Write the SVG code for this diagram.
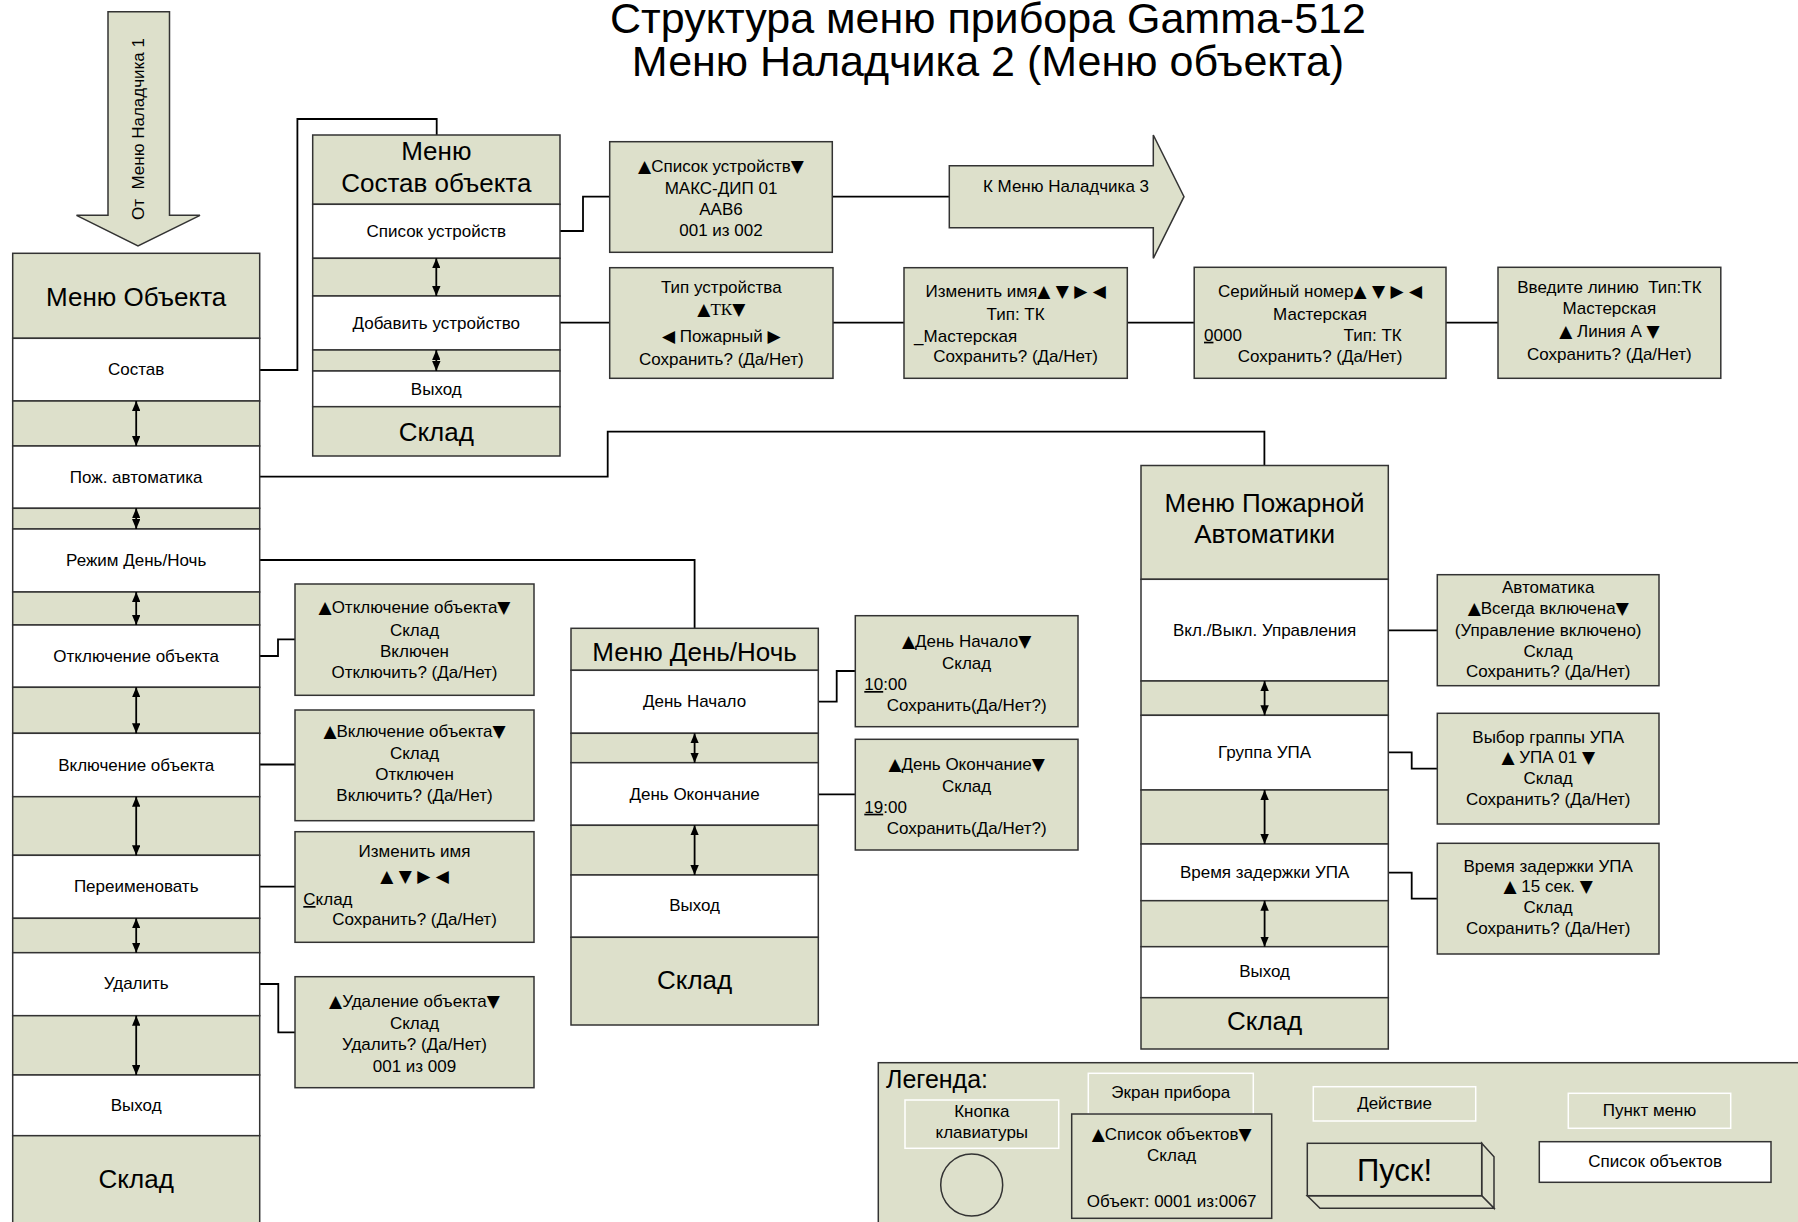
<svg xmlns="http://www.w3.org/2000/svg" width="1798" height="1222" viewBox="0 0 1798 1222">
<style>
.g{fill:#dde0cb;stroke:#333;stroke-width:1.5}
.w{fill:#fff;stroke:#333;stroke-width:1.5}
.lw{fill:#dde0cb;stroke:#fff;stroke-width:1.5}
.c{fill:none;stroke:#000;stroke-width:1.8}
.a{fill:none;stroke:#000;stroke-width:1.8;marker-start:url(#ah);marker-end:url(#ah)}
text{font-family:"Liberation Sans",Arial,sans-serif;font-size:17px;fill:#000}
.m{text-anchor:middle}
.h{font-size:26px}
.s{font-family:"Liberation Serif","Times New Roman",serif}
.u{text-decoration:underline}
.tr{font-family:"DejaVu Sans",sans-serif;font-size:17px}
</style>
<defs>
<marker id="ah" viewBox="0 0 10 8.4" refX="10" refY="4.2" markerWidth="10" markerHeight="8.4" markerUnits="userSpaceOnUse" orient="auto-start-reverse">
<path d="M0,0 L10,4.2 L0,8.4 z" fill="#000"/>
</marker>
</defs>
<rect width="1798" height="1222" fill="#fff"/>

<g id="title">
<text class="m" x="988" y="33" style="font-size:43px">Структура меню прибора Gamma-512</text>
<text class="m" x="988" y="76" style="font-size:43px">Меню Наладчика 2 (Меню объекта)</text>
</g>

<g id="from-menu-1">
<polygon class="g" points="108,11.7 169.5,11.7 169.5,215.3 200,215.3 138,246 76.5,215.3 108,215.3"/>
<text class="m" transform="translate(144,129) rotate(-90)" xml:space="preserve">От  Меню Наладчика 1</text>
</g>

<g id="connectors">
<polyline class="c" points="259.5,370 297.4,370 297.4,119 436.7,119 436.7,135"/>
<polyline class="c" points="259.5,476.7 607.7,476.7 607.7,431.7 1264.4,431.7 1264.4,465.5"/>
<polyline class="c" points="259.5,560 694.6,560 694.6,628.3"/>
<polyline class="c" points="259.5,656 278,656 278,639.3 295,639.3"/>
<polyline class="c" points="259.5,764.5 295,764.5"/>
<polyline class="c" points="259.5,886.7 295,886.7"/>
<polyline class="c" points="259.5,984 278.3,984 278.3,1032.3 295,1032.3"/>
<polyline class="c" points="560,231 583,231 583,196.7 609.7,196.7"/>
<polyline class="c" points="832.3,196.7 955,196.7"/>
<polyline class="c" points="560,322.7 609.7,322.7"/>
<polyline class="c" points="833,322.7 904,322.7"/>
<polyline class="c" points="1127.3,322.7 1194.2,322.7"/>
<polyline class="c" points="1446,322.7 1498,322.7"/>
<polyline class="c" points="818.3,701.7 836.7,701.7 836.7,671 855.3,671"/>
<polyline class="c" points="818.3,794.3 855.3,794.3"/>
<polyline class="c" points="1388.3,630.3 1437.3,630.3"/>
<polyline class="c" points="1388.3,752.3 1411.7,752.3 1411.7,768.7 1437.3,768.7"/>
<polyline class="c" points="1388.3,872.7 1411.7,872.7 1411.7,898.7 1437.3,898.7"/>
</g>

<g id="to-menu-3">
<polygon class="g" points="949.3,165.7 1153.3,165.7 1153.3,135 1184,196.7 1153.3,258.3 1153.3,227.7 949.3,227.7"/>
<text class="m" x="1066" y="191.7">К Меню Наладчика 3</text>
</g>

<g id="menu-object">
<rect class="g" x="12.7" y="253.3" width="247" height="85"/>
<text class="m h" x="136.2" y="306">Меню Объекта</text>
<rect class="w" x="12.7" y="338.3" width="247" height="62.7"/>
<text class="m" x="136.2" y="375">Состав</text>
<rect class="g" x="12.7" y="401" width="247" height="45"/>
<rect class="w" x="12.7" y="446" width="247" height="62.3"/>
<text class="m" x="136.2" y="483">Пож. автоматика</text>
<rect class="g" x="12.7" y="508.3" width="247" height="20.7"/>
<rect class="w" x="12.7" y="529" width="247" height="63"/>
<text class="m" x="136.2" y="566">Режим День/Ночь</text>
<rect class="g" x="12.7" y="592" width="247" height="33"/>
<rect class="w" x="12.7" y="625" width="247" height="62.3"/>
<text class="m" x="136.2" y="662">Отключение объекта</text>
<rect class="g" x="12.7" y="687.3" width="247" height="46"/>
<rect class="w" x="12.7" y="733.3" width="247" height="63.4"/>
<text class="m" x="136.2" y="771">Включение объекта</text>
<rect class="g" x="12.7" y="796.7" width="247" height="58.6"/>
<rect class="w" x="12.7" y="855.3" width="247" height="63"/>
<text class="m" x="136.2" y="892">Переименовать</text>
<rect class="g" x="12.7" y="918.3" width="247" height="34.4"/>
<rect class="w" x="12.7" y="952.7" width="247" height="63"/>
<text class="m" x="136.2" y="989">Удалить</text>
<rect class="g" x="12.7" y="1015.7" width="247" height="59.3"/>
<rect class="w" x="12.7" y="1075" width="247" height="60.7"/>
<text class="m" x="136.2" y="1111">Выход</text>
<rect class="g" x="12.7" y="1135.7" width="247" height="100"/>
<text class="m h" x="136.2" y="1188">Склад</text>
<line class="a" x1="136.2" y1="401" x2="136.2" y2="446"/>
<line class="a" x1="136.2" y1="508.3" x2="136.2" y2="529"/>
<line class="a" x1="136.2" y1="592" x2="136.2" y2="625"/>
<line class="a" x1="136.2" y1="687.3" x2="136.2" y2="733.3"/>
<line class="a" x1="136.2" y1="796.7" x2="136.2" y2="855.3"/>
<line class="a" x1="136.2" y1="918.3" x2="136.2" y2="952.7"/>
<line class="a" x1="136.2" y1="1015.7" x2="136.2" y2="1075"/>
</g>

<g id="menu-composition">
<rect class="g" x="312.7" y="135" width="247.3" height="69.3"/>
<text class="m h" x="436.3" y="160">Меню</text>
<text class="m h" x="436.3" y="191.7">Состав объекта</text>
<rect class="w" x="312.7" y="204.3" width="247.3" height="54"/>
<text class="m" x="436.3" y="237">Список устройств</text>
<rect class="g" x="312.7" y="258.3" width="247.3" height="37.7"/>
<rect class="w" x="312.7" y="296" width="247.3" height="54"/>
<text class="m" x="436.3" y="329">Добавить устройство</text>
<rect class="g" x="312.7" y="350" width="247.3" height="21"/>
<rect class="w" x="312.7" y="371" width="247.3" height="35.7"/>
<text class="m" x="436.3" y="395">Выход</text>
<rect class="g" x="312.7" y="406.7" width="247.3" height="49.3"/>
<text class="m h" x="436.3" y="441">Склад</text>
<line class="a" x1="436.3" y1="258.3" x2="436.3" y2="296"/>
<line class="a" x1="436.3" y1="350" x2="436.3" y2="371"/>
</g>

<g id="device-list">
<rect class="g" x="609.7" y="141.7" width="222.6" height="110.6"/>
<text class="m" x="721" y="172"><tspan class="tr">▲</tspan>Список устройств<tspan class="tr">▼</tspan></text>
<text class="m" x="721" y="194">МАКС-ДИП 01</text>
<text class="m" x="721" y="215">AAB6</text>
<text class="m" x="721" y="236">001 из 002</text>
</g>

<g id="device-type">
<rect class="g" x="609.7" y="267.7" width="223.3" height="110.6"/>
<text class="m" x="721.3" y="292.7">Тип устройства</text>
<text class="m" x="721.3" y="315"><tspan class="tr">▲</tspan><tspan class="s">ТК</tspan><tspan class="tr">▼</tspan></text>
<text class="m" x="721.3" y="341.7"><tspan class="tr">◀</tspan> Пожарный <tspan class="tr">▶</tspan></text>
<text class="m" x="721.3" y="365">Сохранить? (Да/Нет)</text>
</g>

<g id="device-name">
<rect class="g" x="904" y="267.7" width="223.3" height="110.6"/>
<text class="m" x="1015.6" y="296.7">Изменить имя<tspan class="tr">▲ ▼ ▶ ◀</tspan></text>
<text class="m" x="1015.6" y="320">Тип: ТК</text>
<text x="914" y="341.7">_Мастерская</text>
<text class="m" x="1015.6" y="361.7">Сохранить? (Да/Нет)</text>
</g>

<g id="device-serial">
<rect class="g" x="1194.2" y="267.3" width="251.8" height="111"/>
<text class="m" x="1320" y="296.7">Серийный номер<tspan class="tr">▲ ▼ ▶ ◀</tspan></text>
<text class="m" x="1320" y="320">Мастерская</text>
<text x="1204" y="340.7"><tspan class="u">0</tspan>000</text>
<text x="1343.6" y="340.7">Тип: ТК</text>
<text class="m" x="1320" y="361.7">Сохранить? (Да/Нет)</text>
</g>

<g id="device-line">
<rect class="g" x="1498" y="267.3" width="222.8" height="111"/>
<text class="m" x="1609.4" y="293.3" xml:space="preserve">Введите линию  Тип:ТК</text>
<text class="m" x="1609.4" y="314">Мастерская</text>
<text class="m" x="1609.4" y="336.7"><tspan class="tr">▲</tspan> Линия А <tspan class="tr">▼</tspan></text>
<text class="m" x="1609.4" y="360">Сохранить? (Да/Нет)</text>
</g>

<g id="object-off">
<rect class="g" x="295" y="584" width="239" height="111.3"/>
<text class="m" x="414.5" y="613.3"><tspan class="tr">▲</tspan>Отключение объекта<tspan class="tr">▼</tspan></text>
<text class="m" x="414.5" y="636">Склад</text>
<text class="m" x="414.5" y="656.7">Включен</text>
<text class="m" x="414.5" y="678.3">Отключить? (Да/Нет)</text>
</g>

<g id="object-on">
<rect class="g" x="295" y="710" width="239" height="110.7"/>
<text class="m" x="414.5" y="737.3"><tspan class="tr">▲</tspan>Включение объекта<tspan class="tr">▼</tspan></text>
<text class="m" x="414.5" y="759.3">Склад</text>
<text class="m" x="414.5" y="780">Отключен</text>
<text class="m" x="414.5" y="801">Включить? (Да/Нет)</text>
</g>

<g id="object-rename">
<rect class="g" x="295" y="831.7" width="239" height="110.6"/>
<text class="m" x="414.5" y="857.3">Изменить имя</text>
<text class="m tr" x="414.5" y="881.7">▲ ▼ ▶ ◀</text>
<text x="303.3" y="905"><tspan class="u">С</tspan>клад</text>
<text class="m" x="414.5" y="925">Сохранить? (Да/Нет)</text>
</g>

<g id="object-delete">
<rect class="g" x="295" y="976.7" width="239" height="111"/>
<text class="m" x="414.5" y="1007.3"><tspan class="tr">▲</tspan>Удаление объекта<tspan class="tr">▼</tspan></text>
<text class="m" x="414.5" y="1029">Склад</text>
<text class="m" x="414.5" y="1050">Удалить? (Да/Нет)</text>
<text class="m" x="414.5" y="1071.7">001 из 009</text>
</g>

<g id="menu-daynight">
<rect class="g" x="571" y="628.3" width="247.3" height="42"/>
<text class="m h" x="694.6" y="661">Меню День/Ночь</text>
<rect class="w" x="571" y="670.3" width="247.3" height="63"/>
<text class="m" x="694.6" y="707">День Начало</text>
<rect class="g" x="571" y="733.3" width="247.3" height="29.4"/>
<rect class="w" x="571" y="762.7" width="247.3" height="62.6"/>
<text class="m" x="694.6" y="799.5">День Окончание</text>
<rect class="g" x="571" y="825.3" width="247.3" height="49.7"/>
<rect class="w" x="571" y="875" width="247.3" height="62.3"/>
<text class="m" x="694.6" y="911">Выход</text>
<rect class="g" x="571" y="937.3" width="247.3" height="87.7"/>
<text class="m h" x="694.6" y="989">Склад</text>
<line class="a" x1="694.6" y1="733.3" x2="694.6" y2="762.7"/>
<line class="a" x1="694.6" y1="825.3" x2="694.6" y2="875"/>
</g>

<g id="day-start">
<rect class="g" x="855.3" y="615.7" width="222.7" height="111"/>
<text class="m" x="966.6" y="646.7"><tspan class="tr">▲</tspan>День Начало<tspan class="tr">▼</tspan></text>
<text class="m" x="966.6" y="669">Склад</text>
<text x="864.3" y="690"><tspan class="u">10</tspan>:00</text>
<text class="m" x="966.6" y="711">Сохранить(Да/Нет?)</text>
</g>

<g id="day-end">
<rect class="g" x="855.3" y="739.3" width="222.7" height="110.7"/>
<text class="m" x="966.6" y="770"><tspan class="tr">▲</tspan>День Окончание<tspan class="tr">▼</tspan></text>
<text class="m" x="966.6" y="791.7">Склад</text>
<text x="864.3" y="812.7"><tspan class="u">19</tspan>:00</text>
<text class="m" x="966.6" y="834.3">Сохранить(Да/Нет?)</text>
</g>

<g id="menu-fire">
<rect class="g" x="1141" y="465.5" width="247.3" height="113.8"/>
<text class="m h" x="1264.6" y="511.7">Меню Пожарной</text>
<text class="m h" x="1264.6" y="543.3">Автоматики</text>
<rect class="w" x="1141" y="579.3" width="247.3" height="101.7"/>
<text class="m" x="1264.6" y="636">Вкл./Выкл. Управления</text>
<rect class="g" x="1141" y="681" width="247.3" height="34.3"/>
<rect class="w" x="1141" y="715.3" width="247.3" height="74.7"/>
<text class="m" x="1264.6" y="757.7">Группа УПА</text>
<rect class="g" x="1141" y="790" width="247.3" height="54"/>
<rect class="w" x="1141" y="844" width="247.3" height="56.7"/>
<text class="m" x="1264.6" y="878.3">Время задержки УПА</text>
<rect class="g" x="1141" y="900.7" width="247.3" height="46"/>
<rect class="w" x="1141" y="946.7" width="247.3" height="51"/>
<text class="m" x="1264.6" y="976.7">Выход</text>
<rect class="g" x="1141" y="997.7" width="247.3" height="51.3"/>
<text class="m h" x="1264.6" y="1030">Склад</text>
<line class="a" x1="1264.6" y1="681" x2="1264.6" y2="715.3"/>
<line class="a" x1="1264.6" y1="790" x2="1264.6" y2="844"/>
<line class="a" x1="1264.6" y1="900.7" x2="1264.6" y2="946.7"/>
</g>

<g id="fire-control">
<rect class="g" x="1437.3" y="574.7" width="221.7" height="111"/>
<text class="m" x="1548.2" y="593.3">Автоматика</text>
<text class="m" x="1548.2" y="614.3"><tspan class="tr">▲</tspan>Всегда включена<tspan class="tr">▼</tspan></text>
<text class="m" x="1548.2" y="635.7">(Управление включено)</text>
<text class="m" x="1548.2" y="656.7">Склад</text>
<text class="m" x="1548.2" y="677.3">Сохранить? (Да/Нет)</text>
</g>

<g id="fire-group">
<rect class="g" x="1437.3" y="713.3" width="221.7" height="110.7"/>
<text class="m" x="1548.2" y="742.7">Выбор граппы УПА</text>
<text class="m" x="1548.2" y="762.7"><tspan class="tr">▲</tspan> УПА 01 <tspan class="tr">▼</tspan></text>
<text class="m" x="1548.2" y="784">Склад</text>
<text class="m" x="1548.2" y="805">Сохранить? (Да/Нет)</text>
</g>

<g id="fire-delay">
<rect class="g" x="1437.3" y="843.3" width="221.7" height="110.7"/>
<text class="m" x="1548.2" y="871.7">Время задержки УПА</text>
<text class="m" x="1548.2" y="891.7"><tspan class="tr">▲</tspan> 15 сек. <tspan class="tr">▼</tspan></text>
<text class="m" x="1548.2" y="913.3">Склад</text>
<text class="m" x="1548.2" y="934">Сохранить? (Да/Нет)</text>
</g>

<g id="legend">
<rect class="g" x="878.3" y="1062.7" width="940" height="180"/>
<text x="886" y="1088" style="font-size:25px">Легенда:</text>
<rect class="lw" x="905" y="1100" width="153.7" height="48.3"/>
<text class="m" x="981.8" y="1116.7">Кнопка</text>
<text class="m" x="981.8" y="1137.7">клавиатуры</text>
<circle class="g" cx="971.7" cy="1185" r="31"/>
<rect class="lw" x="1088.3" y="1073.3" width="165" height="40.7"/>
<text class="m" x="1170.8" y="1098.3">Экран прибора</text>
<rect class="g" x="1071.7" y="1114" width="200" height="104.3"/>
<text class="m" x="1171.7" y="1140"><tspan class="tr">▲</tspan>Список объектов<tspan class="tr">▼</tspan></text>
<text class="m" x="1171.7" y="1161">Склад</text>
<text class="m" x="1171.7" y="1206.7">Объект: 0001 из:0067</text>
<rect class="lw" x="1313.3" y="1086.7" width="162.4" height="34.3"/>
<text class="m" x="1394.5" y="1109">Действие</text>
<polygon class="g" points="1481.7,1143.3 1494,1156.7 1494,1208.3 1481.7,1195.7"/>
<polygon class="g" points="1307.3,1195.7 1481.7,1195.7 1494,1208.3 1320,1208.3"/>
<rect class="g" x="1307.3" y="1143.3" width="174.4" height="52.4"/>
<text class="m" x="1394.5" y="1181" style="font-size:31px">Пуск!</text>
<rect class="lw" x="1568.3" y="1093.3" width="162.4" height="35"/>
<text class="m" x="1649.5" y="1115.7">Пункт меню</text>
<rect class="w" x="1539.3" y="1141.7" width="231.7" height="40.6"/>
<text class="m" x="1655.2" y="1166.7">Список объектов</text>
</g>
</svg>
